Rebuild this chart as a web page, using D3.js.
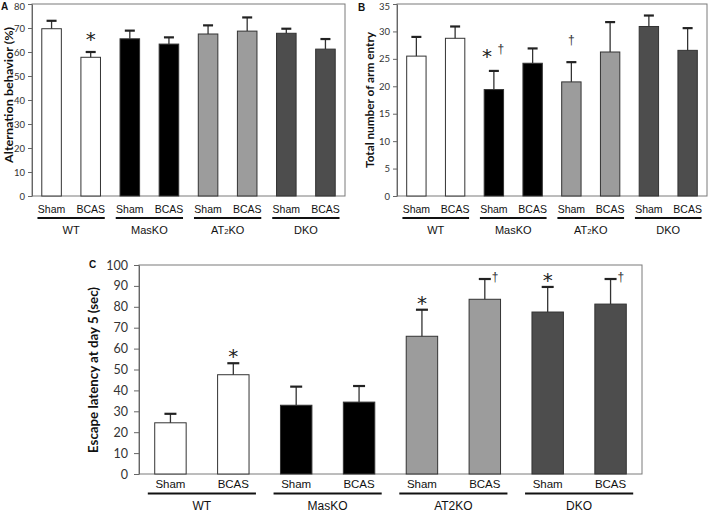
<!DOCTYPE html>
<html><head><meta charset="utf-8">
<script src="https://cdn.jsdelivr.net/npm/d3@7"></script>
<style>
html,body{margin:0;padding:0;background:#fff;}
svg{display:block;}
</style></head>
<body>
<svg id="chart" width="709" height="512"></svg>
<script>
// ---------- DATA ----------
const groups = ["WT", "MasKO", "AT2KO", "DKO"];
const treatments = ["Sham", "BCAS"];
const groupColors = ["#ffffff", "#000000", "#9c9c9c", "#4d4d4d"];

// Panel A: Alternation behavior (%)
const altMean = [69.7, 57.8, 65.5, 63.3, 67.5, 68.7, 67.8, 61.2];
const altErr  = [3.3, 2.2, 3.4, 2.8, 3.6, 5.7, 1.9, 4.2];
const altStar = ["", "*", "", "", "", "", "", ""];
const altDagger = ["", "", "", "", "", "", "", ""];
const altTicks = [0, 10, 20, 30, 40, 50, 60, 70, 80];

// Panel B: Total number of arm entry
const armMean = [25.5, 28.75, 19.4, 24.2, 20.8, 26.25, 30.9, 26.55];
const armErr  = [3.5, 2.15, 3.4, 2.7, 3.6, 5.45, 2.0, 4.05];
const armStar = ["", "", "*", "", "", "", "", ""];
const armDagger = ["", "", "†", "", "†", "", "", ""];
const armTicks = [0, 5, 10, 15, 20, 25, 30, 35];

// Panel C: Escape latency at day 5 (sec)
const escMean = [24.5, 47.5, 32.9, 34.4, 65.9, 83.6, 77.5, 81.3];
const escErr  = [4.3, 5.5, 8.9, 7.7, 12.7, 9.7, 12.0, 12.0];
const escStar = ["", "*", "", "", "*", "", "*", ""];
const escDagger = ["", "", "", "", "", "†", "", "†"];
const escTicks = [0, 10, 20, 30, 40, 50, 60, 70, 80, 90, 100];

// ---------- DRAW ----------
const svg = d3.select("#chart");
const bars = [];
groups.forEach((g, gi) => treatments.forEach((t, ti) => bars.push({g, gi, t, id: g + "-" + t})));

function groupText(sel, name, subscript, size) {
  if (name === "AT2KO") {
    sel.append("tspan").text("AT");
    sel.append("tspan").text("2").attr("font-size", subscript ? size * 0.7 : size);
    sel.append("tspan").text("KO");
  } else sel.text(name);
}

function panel(cfg) {
  const g = svg.append("g");
  const x = d3.scaleBand().domain(bars.map(d => d.id)).range([cfg.x0, cfg.x1])
    .paddingInner(0.5).paddingOuter(0.25);
  const y = d3.scaleLinear().domain([0, cfg.ymax]).range([cfg.yBot, cfg.yTop]);
  const step = x.step();
  const cx = id => x(id) + x.bandwidth() / 2;

  // frame
  g.append("rect").attr("x", cfg.x0).attr("y", cfg.yTop)
    .attr("width", cfg.x1 - cfg.x0).attr("height", cfg.yBot - cfg.yTop)
    .attr("fill", "none").attr("stroke", "#7a7a7a").attr("stroke-width", 1);

  // axis
  const ax = g.append("g").attr("transform", `translate(${cfg.x0},0)`)
    .call(d3.axisLeft(y).tickValues(cfg.ticks).tickSize(cfg.tickLen).tickSizeOuter(0).tickPadding(cfg.tickPad));
  ax.select(".domain").attr("stroke", "#666");
  ax.selectAll(".tick line").attr("stroke", "#666");
  ax.selectAll(".tick text").attr("font-family", "Lato, 'Open Sans', sans-serif")
    .attr("font-size", cfg.tickFont).attr("fill", "#333")
    .attr("dy", d => (d === cfg.ymax && cfg.topNudge) ? "0.55em" : "0.32em");

  // bars
  g.selectAll(".bar").data(bars).join("rect")
    .attr("x", d => x(d.id)).attr("width", x.bandwidth())
    .attr("y", (d, i) => y(cfg.mean[i])).attr("height", (d, i) => y(0) - y(cfg.mean[i]))
    .attr("fill", d => groupColors[d.gi]).attr("stroke", "#333").attr("stroke-width", 1);

  // error bars
  const eb = g.selectAll(".eb").data(bars).join("g");
  eb.append("line")
    .attr("x1", d => cx(d.id)).attr("x2", d => cx(d.id))
    .attr("y1", (d, i) => y(cfg.mean[i])).attr("y2", (d, i) => y(cfg.mean[i] + cfg.err[i]))
    .attr("stroke", "#333").attr("stroke-width", 1.3);
  eb.append("line")
    .attr("x1", d => cx(d.id) - cfg.capW / 2).attr("x2", d => cx(d.id) + cfg.capW / 2)
    .attr("y1", (d, i) => y(cfg.mean[i] + cfg.err[i])).attr("y2", (d, i) => y(cfg.mean[i] + cfg.err[i]))
    .attr("stroke", "#222").attr("stroke-width", 2.2);

  // annotations
  bars.forEach((d, i) => {
    const capY = y(cfg.mean[i] + cfg.err[i]);
    const c = cx(d.id);
    if (cfg.star[i] && cfg.dagger[i] && cfg.combined) {
      g.append("text").attr("x", c - 7).attr("y", capY - cfg.starOff)
        .attr("text-anchor", "middle").attr("font-family", "DejaVu Sans")
        .attr("font-size", cfg.starFont).attr("fill", "#222").text(cfg.star[i]);
      g.append("text").attr("x", c + 7).attr("y", capY - cfg.daggerOff)
        .attr("text-anchor", "middle").attr("font-family", "Liberation Sans, Arial")
        .attr("font-size", cfg.daggerFont).attr("fill", "#333").text(cfg.dagger[i]);
      return;
    }
    if (cfg.star[i]) {
      g.append("text").attr("x", c).attr("y", capY - cfg.starOff)
        .attr("text-anchor", "middle").attr("font-family", "DejaVu Sans")
        .attr("font-size", cfg.starFont).attr("fill", "#222").text(cfg.star[i]);
    }
    if (cfg.dagger[i]) {
      if (cfg.daggerSide) {
        g.append("text").attr("x", c + cfg.capW / 2 + 1).attr("y", capY + 2)
          .attr("text-anchor", "start").attr("font-family", "Liberation Sans, Arial")
          .attr("font-size", cfg.daggerFont).attr("fill", "#333").text(cfg.dagger[i]);
      } else {
        g.append("text").attr("x", c).attr("y", capY - cfg.daggerOff)
          .attr("text-anchor", "middle").attr("font-family", "Liberation Sans, Arial")
          .attr("font-size", cfg.daggerFont).attr("fill", "#333").text(cfg.dagger[i]);
      }
    }
  });

  // category labels
  g.selectAll(".cat").data(bars).join("text")
    .attr("x", d => cx(d.id)).attr("y", cfg.yBot + cfg.catDy)
    .attr("text-anchor", "middle").attr("font-family", "Liberation Sans, Arial, sans-serif")
    .attr("font-size", cfg.catFont).attr("fill", "#111").text(d => d.t);

  // group lines + labels
  groups.forEach((gname, gi) => {
    const a = cx(gname + "-" + treatments[0]), b = cx(gname + "-" + treatments[1]);
    g.append("line").attr("x1", a - 0.36 * step).attr("x2", b + 0.36 * step)
      .attr("y1", cfg.yBot + cfg.lineDy).attr("y2", cfg.yBot + cfg.lineDy)
      .attr("stroke", "#111").attr("stroke-width", 2);
    const t = g.append("text").attr("x", (a + b) / 2).attr("y", cfg.yBot + cfg.grpDy)
      .attr("text-anchor", "middle").attr("font-family", "Liberation Sans, Arial, sans-serif")
      .attr("font-size", cfg.grpFont).attr("fill", "#111");
    groupText(t, gname, cfg.subscript, cfg.grpFont);
  });

  // y title
  g.append("text").attr("transform", `translate(${cfg.titleX},${cfg.titleY}) rotate(-90)`)
    .attr("text-anchor", "middle").attr("dominant-baseline", "central")
    .attr("font-family", "Lato, 'Open Sans', sans-serif").attr("font-weight", "bold")
    .attr("font-size", cfg.titleFont).attr("fill", "#111")
    .attr("textLength", cfg.titleLen).attr("lengthAdjust", "spacingAndGlyphs")
    .text(cfg.title);

  // panel letter
  g.append("text").attr("x", cfg.letterX).attr("y", cfg.letterY)
    .attr("font-family", "Liberation Sans, Arial, sans-serif").attr("font-weight", "bold")
    .attr("font-size", 10).attr("fill", "#111").text(cfg.letter);
}

panel({
  x0: 32, x1: 345, yTop: 4, yBot: 196, ymax: 80, ticks: altTicks, topNudge: true,
  mean: altMean, err: altErr, star: altStar, dagger: altDagger,
  tickLen: 4, tickPad: 3, tickFont: 9.5, capW: 10,
  starFont: 20, starOff: 6, daggerFont: 12, daggerOff: 8,
  catDy: 17, catFont: 10.5, lineDy: 22, grpDy: 38, grpFont: 11, subscript: true,
  title: "Alternation behavior (%)", titleX: 8, titleY: 95, titleFont: 11, titleLen: 136,
  letter: "A", letterX: 1, letterY: 10
});

panel({
  x0: 397, x1: 707, yTop: 4, yBot: 196, ymax: 35, ticks: armTicks, topNudge: true,
  mean: armMean, err: armErr, star: armStar, dagger: armDagger, combined: true,
  tickLen: 4, tickPad: 3, tickFont: 9.5, capW: 10,
  starFont: 20, starOff: 8, daggerFont: 12, daggerOff: 18,
  catDy: 17, catFont: 10.5, lineDy: 22, grpDy: 38, grpFont: 11, subscript: true,
  title: "Total number of arm entry", titleX: 369, titleY: 100, titleFont: 11, titleLen: 136,
  letter: "B", letterX: 358, letterY: 11
});

panel({
  x0: 139, x1: 642, yTop: 265, yBot: 474, ymax: 100, ticks: escTicks,
  mean: escMean, err: escErr, star: escStar, dagger: escDagger, daggerSide: true,
  tickLen: 5, tickPad: 6, tickFont: 12.5, capW: 12,
  starFont: 20, starOff: 0, daggerFont: 12, daggerOff: 10,
  catDy: 14, catFont: 11.5, lineDy: 19.5, grpDy: 35.5, grpFont: 12, subscript: false,
  title: "Escape latency at day 5 (sec)", titleX: 93, titleY: 370, titleFont: 12.5, titleLen: 166,
  letter: "C", letterX: 89, letterY: 268
});
</script>
</body></html>
